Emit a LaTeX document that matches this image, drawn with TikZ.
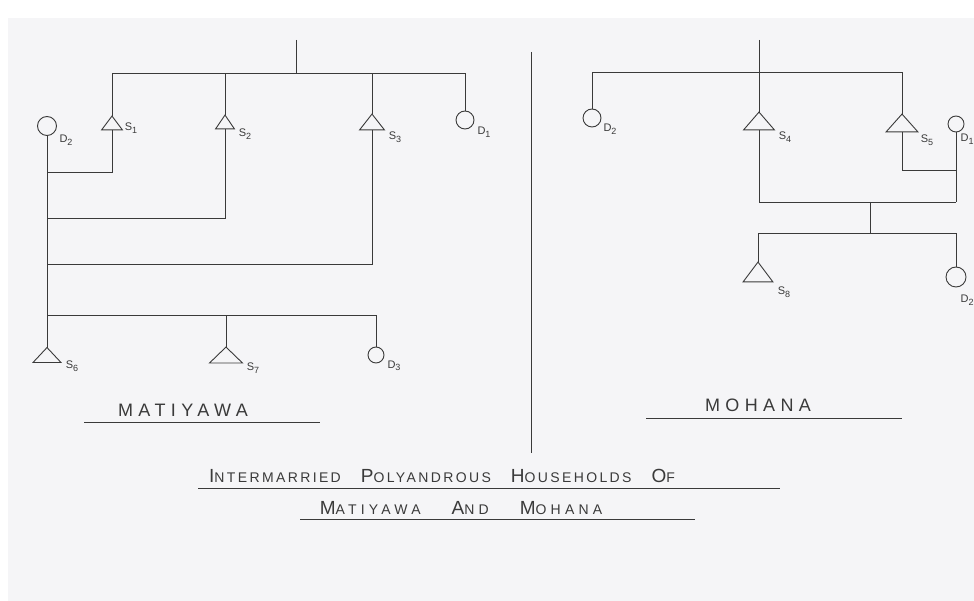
\documentclass[tikz,border=0pt]{standalone}
\usepackage{fontspec}
\setmainfont{Liberation Sans}
\newfontfamily\hand[LetterSpace=17]{Liberation Sans}
\newfontfamily\handw[LetterSpace=30]{Liberation Sans}
\definecolor{ink}{HTML}{3A3A3A}
\definecolor{paper}{HTML}{F5F5F7}
\newcommand\tridraw[1]{\draw (#1.north) -- (#1.south east) -- (#1.south west) -- cycle;}
\newcommand\Sc[2]{{\fontsize{19}{19}\selectfont #1}{\fontsize{14}{14}\selectfont #2}}
\newcommand\Lb[2]{#1\raisebox{-2.5pt}{\fontsize{9}{9}\selectfont #2}}
\begin{document}
\begin{tikzpicture}[x=1pt,y=-1pt,line width=0.9pt,draw=ink,
  tri/.style 2 args={rectangle,inner sep=0pt,minimum width=#1pt,minimum height=#2pt},
  fem/.style={circle,draw,inner sep=0pt,minimum size=#1pt},
  lab/.style={inner sep=0pt,text=ink,font=\fontsize{11}{11}\selectfont},
  big/.style={inner sep=0pt,text=ink,font=\handw\fontsize{18}{18}\selectfont},
  ttl/.style={inner sep=0pt,text=ink}]
\useasboundingbox (0,0) rectangle (974,601);
\clip (0,0) rectangle (974,601);
\fill[white] (0,0) rectangle (974,601);
\fill[paper] (8,18) rectangle (974,601);

% ---------- left household (Matiyawa) ----------
\node[tri={20}{13}] (s1) at (112,123) {};
\node[tri={18}{13}] (s2) at (225,122) {};
\node[tri={24}{15}] (s3) at (372,122) {};
\node[fem=18] (d1) at (465,120) {};
\node[fem=19] (dl2) at (47,126) {};
\node[tri={27}{14}] (s6) at (47,355) {};
\node[tri={32}{15}] (s7) at (226,355) {};
\node[fem=16] (d3) at (376,355) {};
\tridraw{s1}\tridraw{s2}\tridraw{s3}\tridraw{s6}\tridraw{s7}

\node[lab] (ls1) at (131,128) {\Lb{S}{1}};
\node[lab] (ls2) at (245,134) {\Lb{S}{2}};
\node[lab] (ls3) at (395,137) {\Lb{S}{3}};
\node[lab] (ld1) at (484,132) {\Lb{D}{1}};
\node[lab] (ldl2) at (66,140) {\Lb{D}{2}};
\node[lab] (ls6) at (72,366) {\Lb{S}{6}};
\node[lab] (ls7) at (253,368) {\Lb{S}{7}};
\node[lab] (ld3) at (394,366) {\Lb{D}{3}};

\coordinate (Ltop) at (296,40);
\coordinate (Lbar) at (296,73);
\draw (Ltop) -- (Lbar);
\draw (s1.north) |- (Lbar);
\draw (d1.north) |- (Lbar);
\draw (s2.north) -- (s2.north |- Lbar);
\draw (s3.north) -- (s3.north |- Lbar);
\draw (dl2.south) -- (s6.north);
\coordinate (m1) at (47,172);
\coordinate (m2) at (47,218);
\coordinate (m3) at (47,264);
\coordinate (c1) at (47,315);
\draw (s1.south) |- (m1);
\draw (s2.south) |- (m2);
\draw (s3.south) |- (m3);
\draw (d3.north) |- (c1);
\draw (s7.north) -- (s7.north |- c1);

\node[big] (mat) at (183,410) {MATIYAWA};
\coordinate (mu1) at (84,422);
\coordinate (mu2) at (320,422);
\draw (mu1) -- (mu2);

% ---------- divider ----------
\coordinate (div1) at (531,52);
\coordinate (div2) at (531,453);
\draw (div1) -- (div2);

% ---------- right household (Mohana) ----------
\node[fem=18] (dr2) at (592,118) {};
\node[tri={30}{17}] (s4) at (759,121) {};
\node[tri={31}{17}] (s5) at (902,123) {};
\node[fem=16] (dr1) at (956,124) {};
\node[tri={29}{19}] (s8) at (758,272) {};
\node[fem=20] (dr3) at (956,277) {};
\tridraw{s4}\tridraw{s5}\tridraw{s8}

\node[lab] (lr2) at (610,129) {\Lb{D}{2}};
\node[lab] (ls4) at (785,137) {\Lb{S}{4}};
\node[lab] (ls5) at (927,140) {\Lb{S}{5}};
\node[lab,anchor=east] (lr1) at (974,139) {\Lb{D}{1}};
\node[lab] (ls8) at (784,292) {\Lb{S}{8}};
\node[lab,anchor=east] (lr3) at (974,300) {\Lb{D}{2}};

\coordinate (Rtop) at (759,40);
\coordinate (Rb5) at (902,72);
\draw (Rtop) -- (s4.north);
\draw (dr2.north) |- (Rb5) -- (s5.north);
\coordinate (m5) at (956,170);
\coordinate (m6) at (956,202);
\draw (s5.south) |- (m5);
\draw (s4.south) |- (m6);
\draw (dr1.south) -- (m6);
\coordinate (cr) at (870,202);
\coordinate (crb) at (870,233);
\draw (cr) -- (crb);
\draw (s8.north) |- (dr3.north |- crb) -- (dr3.north);

\node[big] (moh) at (758,405) {MOHANA};
\coordinate (ou1) at (646,418);
\coordinate (ou2) at (902,418);
\draw (ou1) -- (ou2);

% ---------- title ----------
\node[ttl,font=\hand] (t1) at (442,476) {\Sc{I}{NTERMARRIED}\hspace{20pt}\Sc{P}{OLYANDROUS}\hspace{20pt}\Sc{H}{OUSEHOLDS}\hspace{20pt}\Sc{O}{F}};
\coordinate (tu1) at (198,488);
\coordinate (tu2) at (780,488);
\draw (tu1) -- (tu2);
\node[ttl,font=\handw] (t2) at (461,508) {\Sc{M}{ATIYAWA}\hspace{31pt}\Sc{A}{ND}\hspace{31pt}\Sc{M}{OHANA}};
\coordinate (tv1) at (300,519);
\coordinate (tv2) at (695,519);
\draw (tv1) -- (tv2);
\end{tikzpicture}
\end{document}
